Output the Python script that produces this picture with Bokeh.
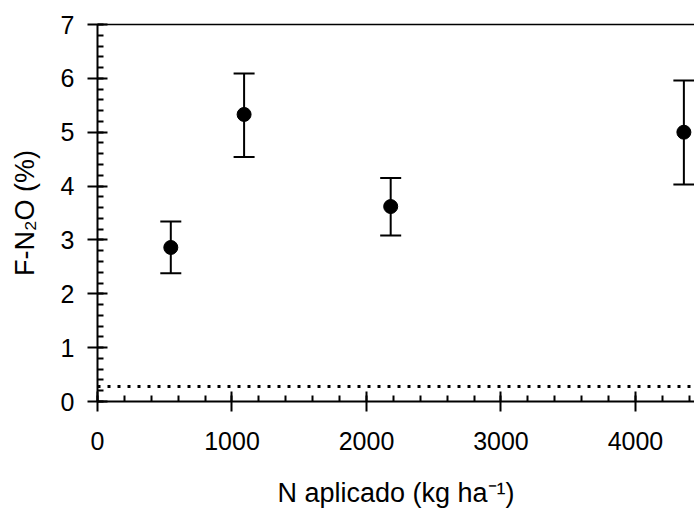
from bokeh.plotting import figure
from bokeh.models import (Range1d, LinearAxis, SingleIntervalTicker, FixedTicker, Whisker,
                          TeeHead, Span, ColumnDataSource)
from bokeh.embed import file_html
from bokeh.resources import INLINE

# ---- data ----
n_applied = [545, 1090, 2180, 4360]
f_n2o = [2.86, 5.33, 3.62, 5.00]
f_upper = [3.34, 6.09, 4.15, 5.96]
f_lower = [2.38, 4.54, 3.08, 4.03]
reference_level = 0.28
x_ticks_major = 1000
y_ticks_major = 1
x_title = "N aplicado (kg ha\u207b\u00b9)"
y_title = "F-N\u2082O (%)"

FONT = "Liberation Sans"

src = ColumnDataSource(dict(x=n_applied, y=f_n2o, upper=f_upper, lower=f_lower))

p = figure(width=694, height=510, output_backend="svg", toolbar_location=None,
           x_range=Range1d(0, 4439), y_range=Range1d(0, 7),
           x_axis_type=None, y_axis_type=None,
           min_border_left=97, min_border_right=0, min_border_top=24, min_border_bottom=108)
p.xgrid.visible = False
p.ygrid.visible = False
p.outline_line_color = None
p.background_fill_color = "white"
p.border_fill_color = "white"

def style_axis(ax, standoff, title, title_standoff):
    ax.axis_line_width = 2
    ax.axis_line_color = "black"
    ax.major_tick_line_width = 2
    ax.minor_tick_line_width = 2
    ax.major_tick_line_color = "black"
    ax.minor_tick_line_color = "black"
    ax.major_tick_in = 10
    ax.major_tick_out = 10
    ax.minor_tick_in = 6
    ax.minor_tick_out = 0
    ax.major_label_text_font = FONT
    ax.major_label_text_font_size = "25px"
    ax.major_label_text_color = "black"
    ax.major_label_standoff = standoff
    ax.axis_label = title
    ax.axis_label_text_font = FONT
    ax.axis_label_text_font_size = "27px"
    ax.axis_label_text_font_style = "normal"
    ax.axis_label_text_color = "black"
    ax.axis_label_standoff = title_standoff

xaxis = LinearAxis(ticker=SingleIntervalTicker(interval=x_ticks_major, num_minor_ticks=5))
style_axis(xaxis, 20, x_title, 25)
p.add_layout(xaxis, "below")

yaxis = LinearAxis(ticker=SingleIntervalTicker(interval=y_ticks_major, num_minor_ticks=5))
style_axis(yaxis, 13, y_title, 18)
p.add_layout(yaxis, "left")

top = LinearAxis(ticker=FixedTicker(ticks=[]), major_label_text_font_size="0px",
                 axis_line_width=1.5, axis_line_color="black",
                 major_tick_in=0, major_tick_out=0, minor_tick_in=0, minor_tick_out=0)
p.add_layout(top, "above")

# dotted reference line
p.add_layout(Span(location=reference_level, dimension="width", line_color="black",
                  line_width=3, line_dash="3 7"))

# error bars
p.add_layout(Whisker(source=src, base="x", upper="upper", lower="lower", dimension="height",
                     line_color="black", line_width=2,
                     upper_head=TeeHead(size=21, line_width=2, line_color="black"),
                     lower_head=TeeHead(size=21, line_width=2, line_color="black")))

p.scatter("x", "y", source=src, size=14, color="black", marker="circle")

open("out.html", "w").write(file_html(p, INLINE))
